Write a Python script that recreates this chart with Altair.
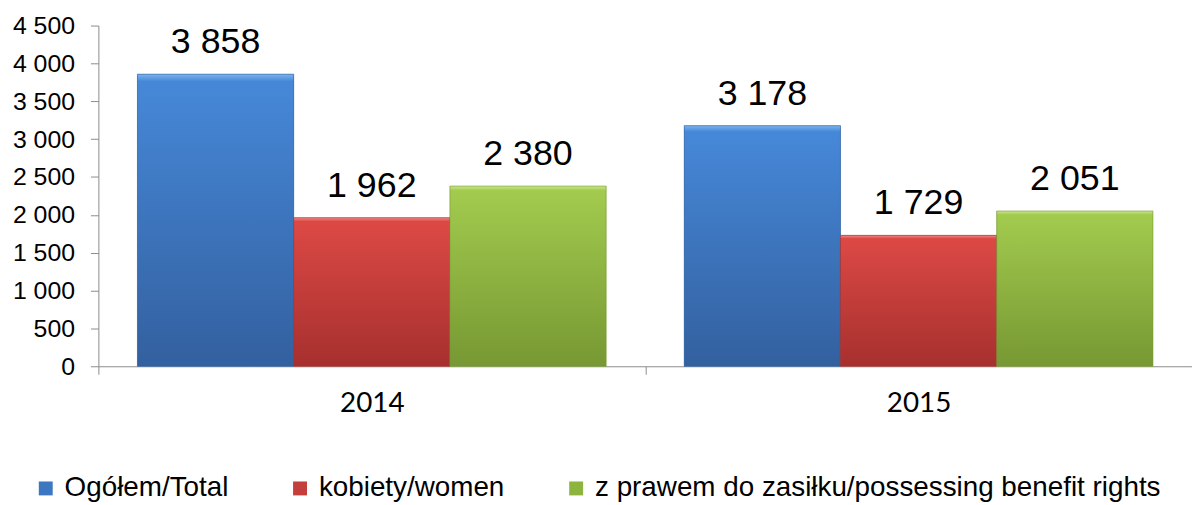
import altair as alt
import pandas as pd

years = ["2014", "2015"]
series = ["Ogółem/Total", "kobiety/women", "z prawem do zasiłku/possessing benefit rights"]
total = [3858, 3178]
women = [1962, 1729]
benefit = [2380, 2051]

colors = ["#3c77c2", "#c43e3b", "#8db43f"]
grad_top = ["#4688d8", "#dc4945", "#a2cb4e"]
grad_hl = ["#7ab4f0", "#f08a86", "#c8e68a"]
grad_bot = ["#33609f", "#a6302e", "#779833"]

rows = []
for s, vals in zip(series, [total, women, benefit]):
    for y, v in zip(years, vals):
        rows.append({"year": y, "series": s, "value": v,
                     "label": f"{v:,}".replace(",", " ")})
df = pd.DataFrame(rows)

base = alt.Chart(df).encode(
    x=alt.X("year:N", title=None,
            scale=alt.Scale(paddingInner=0, paddingOuter=0),
            axis=alt.Axis(tickBand="extent", labelAngle=0, labelFont="Lato",
                          labelFontSize=28, labelColor="#000000", labelPadding=16,
                          domainColor="#8c8c8c", tickColor="#8c8c8c", tickSize=8,
                          grid=False)),
    xOffset=alt.XOffset("series:N", sort=series,
                        scale=alt.Scale(domain=series, paddingInner=0, paddingOuter=0.25)),
    y=alt.Y("value:Q", title=None,
            scale=alt.Scale(domain=[0, 4500], nice=False),
            axis=alt.Axis(values=list(range(0, 4501, 500)),
                          labelExpr="replace(format(datum.value, ','), ',', ' ')",
                          labelFont="Liberation Sans", labelFontSize=25,
                          labelColor="#000000", labelPadding=16,
                          domainColor="#8c8c8c", tickColor="#8c8c8c", tickSize=8,
                          grid=False)),
)

legend_layer = base.mark_bar().encode(
    color=alt.Color("series:N",
                    scale=alt.Scale(domain=series, range=colors),
                    legend=alt.Legend(title=None, orient="none", legendX=-67, legendY=452,
                                      direction="horizontal", columns=3,
                                      symbolType="square", symbolSize=196,
                                      symbolStrokeWidth=0, labelFont="Liberation Sans",
                                      labelFontSize=28, labelColor="#000000",
                                      labelLimit=1000,
                                      labelOffset=5, columnPadding=58))
)

layers = [legend_layer]
for i, s in enumerate(series):
    grad = alt.LinearGradient(
        gradient="linear", x1=0, y1=0, x2=0, y2=1,
        stops=[alt.GradientStop(color=grad_hl[i], offset=0),
               alt.GradientStop(color=grad_top[i], offset=0.025),
               alt.GradientStop(color=grad_bot[i], offset=1)])
    layers.append(
        base.transform_filter(alt.datum.series == s)
        .mark_bar(fill=grad, stroke=grad_bot[i], strokeWidth=1, strokeOpacity=0.6)
    )

text_layer = base.mark_text(font="Liberation Sans", fontSize=36, dy=-21,
                            baseline="alphabetic", align="center",
                            color="#000000").encode(text="label:N")
layers.append(text_layer)

chart = alt.layer(*layers).properties(
    width=1101, height=343,
    padding={"left": 91, "top": 16, "right": 0, "bottom": 138},
    autosize=alt.AutoSizeParams(type="none"),
).configure_view(stroke=None)

chart.save("out.html", embed_options={"renderer": "svg", "actions": False})
